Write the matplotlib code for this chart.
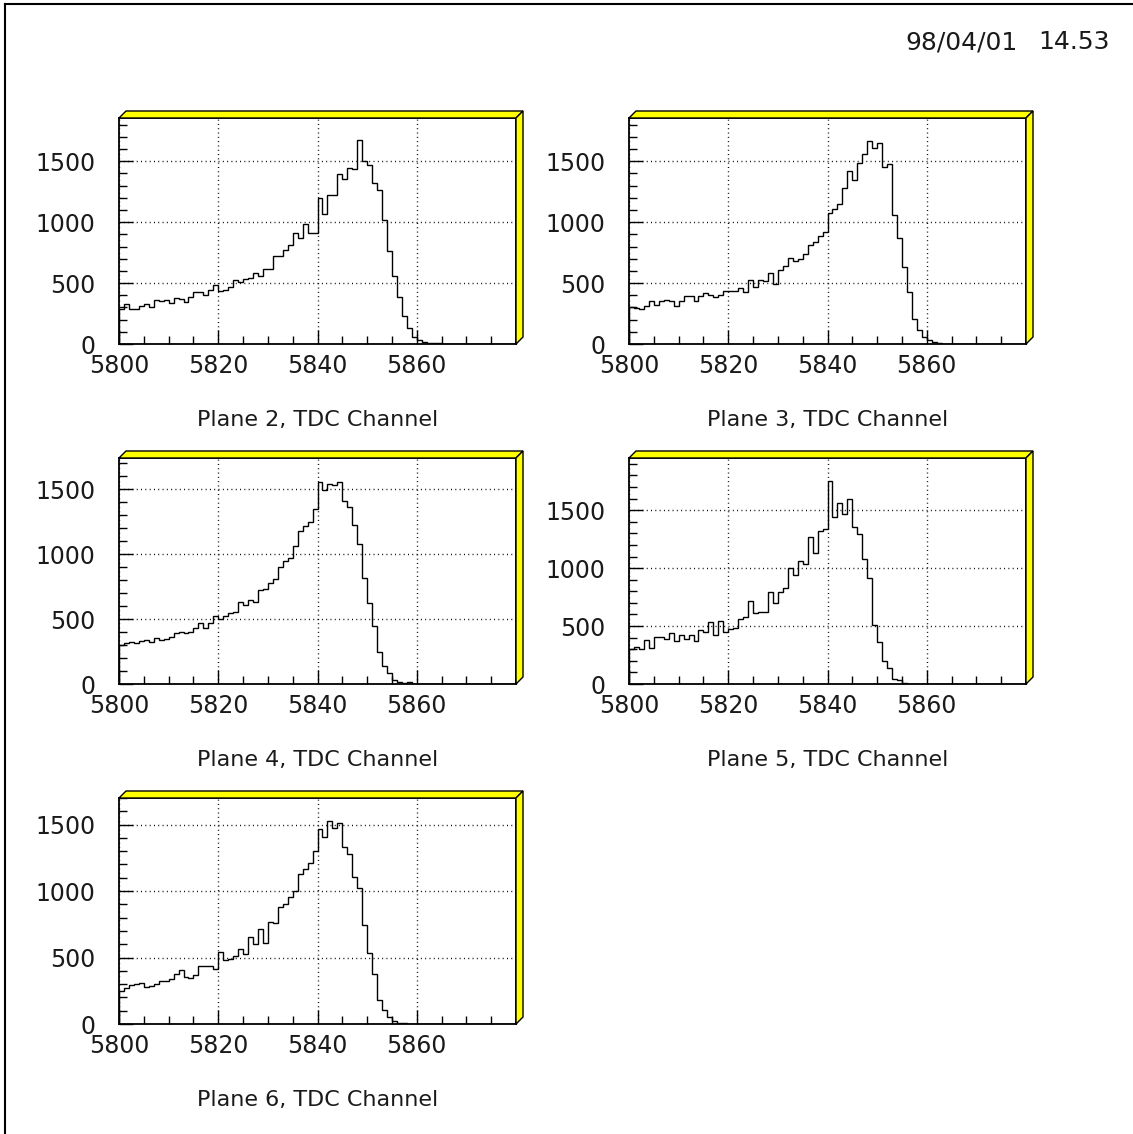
import numpy as np
import matplotlib
matplotlib.use("Agg")
import matplotlib.pyplot as plt
from matplotlib.patches import Polygon
from matplotlib.lines import Line2D
from matplotlib.ticker import MultipleLocator

# TDC channel histograms, 1 channel bins starting at 5800
x_lo, x_hi = 5800, 5880

plane2 = [287, 325, 290, 290, 309, 330, 303, 360, 352, 358,
          336, 377, 372, 341, 385, 423, 423, 404, 440, 481,
          432, 440, 464, 527, 511, 535, 541, 582, 555, 615,
          617, 724, 719, 768, 809, 915, 874, 984, 910, 910,
          1197, 1068, 1224, 1224, 1393, 1352, 1442, 1434, 1675, 1505,
          1470, 1320, 1265, 1019, 760, 560, 385, 227, 128, 57,
          35, 16, 8, 5, 5]
plane3 = [306, 295, 290, 314, 352, 322, 350, 360, 350, 314,
          350, 391, 391, 352, 391, 418, 399, 385, 404, 432,
          432, 432, 456, 429, 522, 467, 522, 514, 582, 492,
          604, 642, 705, 683, 697, 740, 809, 841, 888, 923,
          1074, 1109, 1153, 1284, 1423, 1347, 1483, 1557, 1669, 1612,
          1647, 1456, 1478, 1055, 874, 628, 426, 205, 117, 55,
          30, 14, 5, 3]
plane4 = [301, 314, 321, 314, 334, 339, 327, 352, 339, 347,
          365, 390, 403, 395, 398, 429, 472, 429, 472, 526,
          497, 526, 548, 556, 633, 607, 650, 628, 722, 735,
          778, 806, 900, 944, 972, 1066, 1181, 1214, 1250, 1347,
          1556, 1495, 1539, 1533, 1559, 1406, 1365, 1224, 1079, 819,
          620, 449, 250, 140, 84, 33, 18, 8, 13, 3]
plane5 = [301, 318, 304, 376, 310, 405, 405, 387, 439, 373,
          425, 390, 425, 373, 462, 445, 531, 425, 545, 445,
          476, 482, 559, 574, 720, 611, 625, 625, 797, 697,
          797, 832, 1004, 941, 1064, 1036, 1271, 1127, 1323, 1334,
          1753, 1443, 1558, 1466, 1592, 1351, 1291, 1079, 918, 511,
          361, 195, 138, 43, 32, 6]
plane6 = [250, 270, 295, 303, 308, 278, 283, 300, 326, 320,
          338, 376, 406, 351, 346, 371, 433, 438, 433, 416,
          541, 478, 491, 508, 563, 526, 651, 601, 714, 613,
          766, 759, 879, 904, 959, 1002, 1127, 1164, 1209, 1302,
          1467, 1405, 1530, 1477, 1515, 1330, 1277, 1104, 1022, 741,
          531, 376, 178, 108, 53, 25, 10, 5]

planes = [2, 3, 4, 5, 6]
counts = [plane2, plane3, plane4, plane5, plane6]
ymax = [1855, 1855, 1740, 1950, 1700]

W, H = 1133, 1134
fig = plt.figure(figsize=(W / 100, H / 100), dpi=100)
plt.rcParams['font.family'] = ['DejaVu Sans']
ink = '#1a1a1a'

# panel boxes in pixels: left, top
boxes = [(119, 118), (629, 118), (119, 458), (629, 458), (119, 798)]
pw, ph = 397, 226
d = 7  # depth of the yellow frame

edges = np.arange(x_lo, x_hi + 1)

for (px, py), pl, c, ym in zip(boxes, planes, counts, ymax):
    ax = fig.add_axes([px / W, (H - py - ph) / H, pw / W, ph / H])
    vals = np.zeros(len(edges) - 1)
    vals[:len(c)] = c
    ax.stairs(vals, edges, color='black', lw=1.0, baseline=0)
    ax.set_xlim(x_lo, x_hi)
    ax.set_ylim(0, ym)
    ax.xaxis.set_minor_locator(MultipleLocator(5))
    ax.yaxis.set_major_locator(MultipleLocator(500))
    ax.yaxis.set_minor_locator(MultipleLocator(100))
    ax.set_xticks([5800, 5820, 5840, 5860])
    ax.tick_params(which='both', direction='in', top=False, right=False,
                   labelsize=17, width=1.0, labelcolor=ink)
    ax.tick_params(axis='x', which='major', length=10, pad=7)
    ax.tick_params(axis='y', which='major', length=10, pad=17)
    ax.tick_params(which='minor', length=5.5)
    ax.grid(True, which='major', color='black', lw=1.0,
            linestyle=(0, (0.7, 2.4)))
    for s in ax.spines.values():
        s.set_linewidth(1.3)
    ax.text(0.5, -0.336, f"Plane {pl}, TDC Channel", transform=ax.transAxes,
            ha='center', va='center', fontsize=16, color=ink)

    # yellow 3D frame on top and right
    l, r = px / W, (px + pw) / W
    t, b = (H - py) / H, (H - py - ph) / H
    dx, dy = d / W, d / H
    top = Polygon([(l, t), (l + dx, t + dy), (r + dx, t + dy), (r, t)],
                  closed=True, facecolor='#ffff00', edgecolor='black',
                  lw=1.0, transform=fig.transFigure)
    side = Polygon([(r, t), (r + dx, t + dy), (r + dx, b + dy), (r, b)],
                   closed=True, facecolor='#ffff00', edgecolor='black',
                   lw=1.0, transform=fig.transFigure)
    fig.patches.extend([top, side])

# page frame
fig.lines.append(Line2D([5 / W, 5 / W], [0, (H - 4) / H], color='black',
                        lw=1.5, transform=fig.transFigure))
fig.lines.append(Line2D([5 / W, 1], [(H - 4) / H, (H - 4) / H], color='black',
                        lw=1.5, transform=fig.transFigure))

fig.text(1018 / W, (H - 42) / H, "98/04/01", ha='right', va='center',
         fontsize=18, color=ink)
fig.text(1110 / W, (H - 42) / H, "14.53", ha='right', va='center',
         fontsize=18, color=ink)

fig.savefig("out.png", dpi=100)
